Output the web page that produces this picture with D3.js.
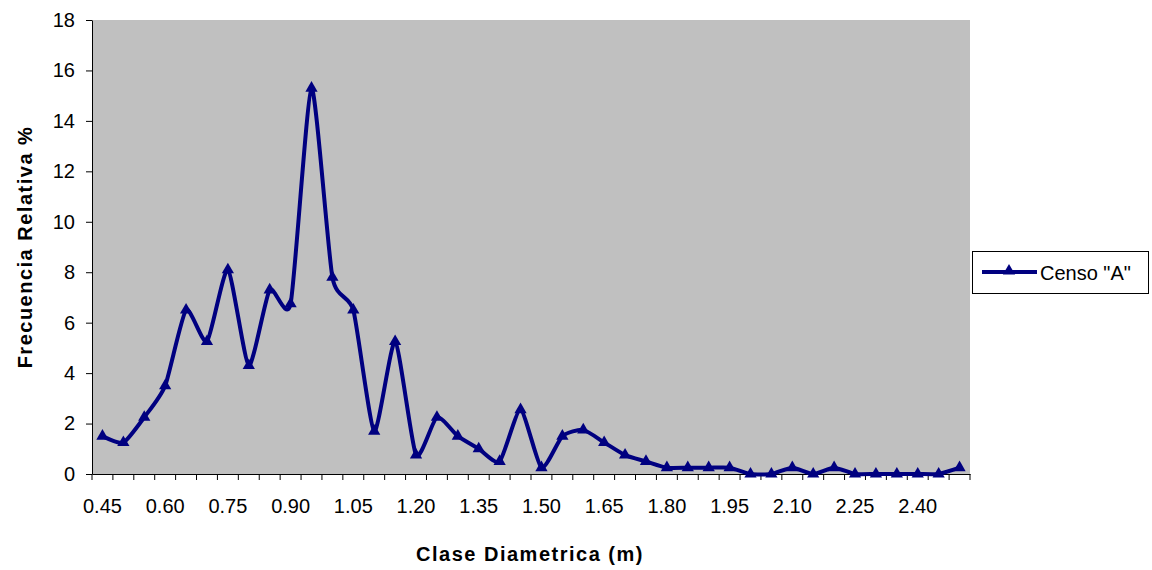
<!DOCTYPE html>
<html>
<head>
<meta charset="utf-8">
<script src="https://cdn.jsdelivr.net/npm/d3@7"></script>
<style>
  body { margin: 0; background: #fff; }
  text { font-family: "Liberation Sans", Arial, sans-serif; }
</style>
</head>
<body>
<svg id="viewport" width="1152" height="570"></svg>
<script>
// diameter classes (m)
const classes = ['0.45', '0.50', '0.55', '0.60', '0.65', '0.70', '0.75', '0.80', '0.85', '0.90',
  '0.95', '1.00', '1.05', '1.10', '1.15', '1.20', '1.25', '1.30', '1.35', '1.40',
  '1.45', '1.50', '1.55', '1.60', '1.65', '1.70', '1.75', '1.80', '1.85', '1.90',
  '1.95', '2.00', '2.05', '2.10', '2.15', '2.20', '2.25', '2.30', '2.35', '2.40',
  '2.45', '2.50'];
// relative frequency % for census "A"
const censoA = [1.5, 1.25, 2.25, 3.5, 6.5, 5.25, 8.1, 4.3, 7.3, 6.75,
  15.3, 7.8, 6.5, 1.7, 5.25, 0.75, 2.25, 1.5, 1.0, 0.5,
  2.55, 0.25, 1.5, 1.75, 1.25, 0.75, 0.5, 0.25, 0.25, 0.25,
  0.25, 0, 0, 0.25, 0, 0.25, 0, 0, 0, 0,
  0, 0.25];
const yTicks = [0, 2, 4, 6, 8, 10, 12, 14, 16, 18];
const seriesName = 'Censo "A"';

const plot = { left: 92, right: 970, top: 20, bottom: 474 };
const navy = '#000080';
const svg = d3.select('#viewport');

const x = d3.scaleBand().domain(classes).range([plot.left, plot.right]).paddingInner(0).paddingOuter(0);
const y = d3.scaleLinear().domain([0, 18]).range([plot.bottom, plot.top]);
const cx = (c) => x(c) + x.bandwidth() / 2;

// plot background
svg.append('rect')
  .attr('x', plot.left).attr('y', plot.top)
  .attr('width', plot.right - plot.left).attr('height', plot.bottom - plot.top)
  .attr('fill', '#c0c0c0');

// y axis
const yAxis = svg.append('g')
  .attr('transform', `translate(${plot.left},0)`)
  .call(d3.axisLeft(y).tickValues(yTicks).tickSize(6).tickPadding(11).tickSizeOuter(0));
yAxis.selectAll('text').style('font-size', '20px').attr('fill', '#000');
yAxis.selectAll('line, path').attr('stroke', '#000');

// x axis: labels every 3rd class, ticks at band edges
const xAxis = svg.append('g')
  .attr('transform', `translate(0,${plot.bottom})`)
  .call(d3.axisBottom(x).tickValues(classes.filter((d, i) => i % 3 === 0)).tickSize(0).tickPadding(25).tickSizeOuter(0));
xAxis.selectAll('text').style('font-size', '20px').attr('fill', '#000');
xAxis.select('path').attr('stroke', '#000');
xAxis.selectAll('g.edge')
  .data(classes.map((c) => x(c)).concat([plot.right]))
  .join('line')
  .attr('x1', (d) => d).attr('x2', (d) => d)
  .attr('y1', 0).attr('y2', 6)
  .attr('stroke', '#000');

// smoothed line
const pts = classes.map((c, i) => [cx(c), y(censoA[i])]);
svg.append('path')
  .datum(pts)
  .attr('d', d3.line().curve(d3.curveCardinal.tension(0.4)))
  .attr('fill', 'none')
  .attr('stroke', navy)
  .attr('stroke-width', 4)
  .attr('stroke-linejoin', 'round');

const tri = d3.symbol().type(d3.symbolTriangle).size(65);
svg.append('g')
  .selectAll('path')
  .data(pts)
  .join('path')
  .attr('transform', (d) => `translate(${d[0]},${d[1]})`)
  .attr('d', tri)
  .attr('fill', navy);

// axis titles
svg.append('text')
  .attr('x', 530).attr('y', 561)
  .attr('text-anchor', 'middle')
  .style('font-size', '20px').style('font-weight', 'bold').style('letter-spacing', '1.5px')
  .text('Clase Diametrica (m)');
svg.append('text')
  .attr('transform', `translate(32,${(plot.top + plot.bottom) / 2}) rotate(-90)`)
  .attr('text-anchor', 'middle')
  .style('font-size', '20px').style('font-weight', 'bold').style('letter-spacing', '1.5px')
  .text('Frecuencia Relativa %');

// legend
const legend = svg.append('g').attr('class', 'legend').attr('transform', 'translate(972,251)');
legend.append('rect')
  .attr('x', 0.5).attr('y', 0.5).attr('width', 176).attr('height', 42)
  .attr('fill', '#fff').attr('stroke', '#000');
legend.append('line')
  .attr('x1', 10).attr('x2', 65).attr('y1', 21).attr('y2', 21)
  .attr('stroke', navy).attr('stroke-width', 4);
legend.append('path')
  .attr('transform', 'translate(37,20)')
  .attr('d', tri)
  .attr('fill', navy);
legend.append('text')
  .attr('x', 68).attr('y', 29)
  .style('font-size', '20px')
  .text(seriesName);
</script>
</body>
</html>
